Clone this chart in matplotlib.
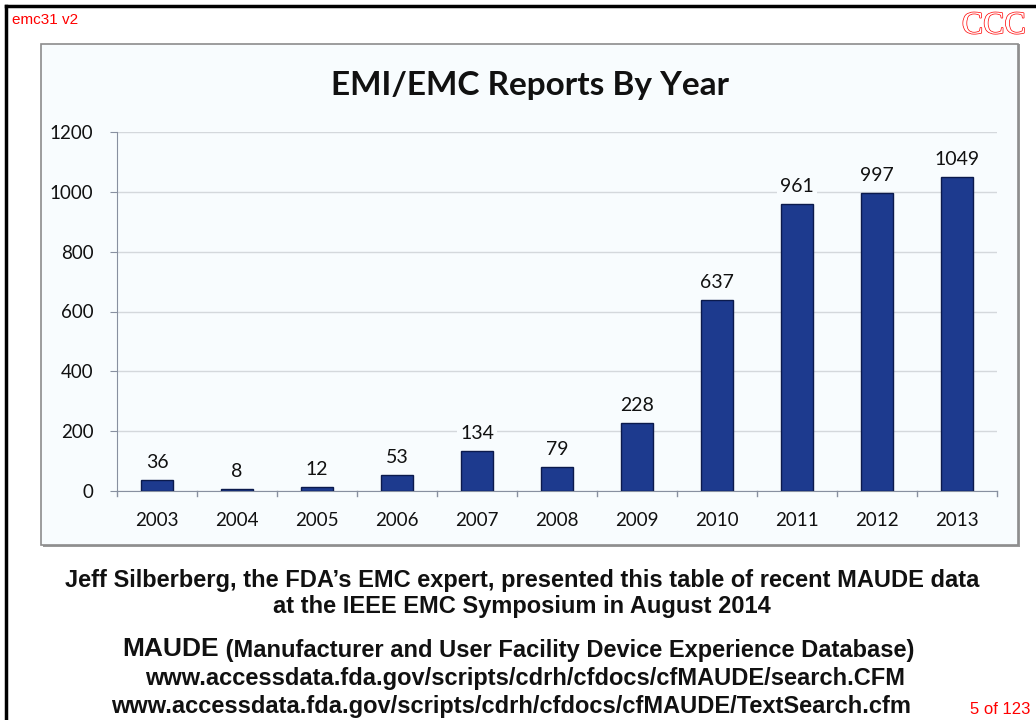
import matplotlib
matplotlib.use("Agg")
import matplotlib.pyplot as plt
from matplotlib.patches import Rectangle
from matplotlib.lines import Line2D
import matplotlib.patheffects as pe

years = ["2003", "2004", "2005", "2006", "2007", "2008", "2009", "2010", "2011", "2012", "2013"]
reports = [36, 8, 12, 53, 134, 79, 228, 637, 961, 997, 1049]
y_ticks = [0, 200, 400, 600, 800, 1000, 1200]

W, H = 1036, 720
fig = plt.figure(figsize=(W / 100, H / 100), dpi=100)
fig.patch.set_facecolor("white")
PANEL = "#f8fcfe"

def fx(px):
    return px / W

def fy(py):
    return 1 - py / H

# slide frame (black, top and left)
fig.add_artist(Line2D([fx(6), 1.0], [fy(6), fy(6)], color="black", lw=2.5, transform=fig.transFigure))
fig.add_artist(Line2D([fx(6), fx(6)], [fy(6), 0.0], color="black", lw=2.5, transform=fig.transFigure))

# chart panel
fig.add_artist(Rectangle((fx(43), fy(547)), fx(1020) - fx(43), fy(44) - fy(547),
                         transform=fig.transFigure, facecolor="#9a9a9a", edgecolor="none", zorder=-2))
fig.add_artist(Rectangle((fx(41), fy(545)), fx(1018) - fx(41), fy(44) - fy(545),
                         transform=fig.transFigure, facecolor=PANEL, edgecolor="#8c8c8c", lw=1.2, zorder=-1))

ax = fig.add_axes([fx(117), fy(491), fx(997) - fx(117), fy(132) - fy(491)])
ax.set_facecolor("none")
x = list(range(len(years)))
ax.bar(x, reports, width=0.4, color="#1d3a8e", edgecolor="#0b1a4c", linewidth=1.0, zorder=3)
for xi, v in zip(x, reports):
    ax.text(xi, v + 30, str(v), ha="center", va="bottom", fontsize=14, family="Lato", color="#111111",
            bbox=dict(facecolor=PANEL, edgecolor="none", pad=2), zorder=4)

ax.set_xlim(-0.5, len(years) - 0.5)
ax.set_ylim(0, 1200)
ax.set_yticks(y_ticks)
ax.set_yticklabels([str(t) for t in y_ticks], fontsize=13.5, family="Lato", color="#111111")
ax.set_xticks(x)
ax.set_xticklabels(years, fontsize=13.5, family="Lato", color="#111111")
ax.tick_params(axis="x", length=0, pad=15)
ax.tick_params(axis="y", length=5, color="#8890a0", pad=12)
for b in [i - 0.5 for i in range(len(years) + 1)]:
    ax.plot([b, b], [0, -18], color="#8890a0", lw=1.0, clip_on=False, zorder=4)
ax.grid(axis="y", color="#d4d8dc", lw=1.0, zorder=0)
for s in ["top", "right"]:
    ax.spines[s].set_visible(False)
ax.spines["left"].set_color("#8890a0")
ax.spines["bottom"].set_color("#8890a0")

fig.text(fx(530), fy(86), "EMI/EMC Reports By Year", ha="center", va="center",
         fontsize=24, fontweight="bold", family="Lato", color="#111111")

# slide labels
fig.text(fx(12), fy(20), "emc31 v2", ha="left", va="center", fontsize=11,
         family="Liberation Sans", color="red")
t = fig.text(fx(1026), fy(26), "CCC", ha="right", va="center", fontsize=23,
             family="Liberation Serif", color="white")
t.set_path_effects([pe.Stroke(linewidth=1.0, foreground="red"), pe.Normal()])
fig.text(fx(1030), fy(710), "5 of 123", ha="right", va="center", fontsize=12,
         family="Liberation Sans", color="red")

bt = dict(va="center", family="Liberation Sans", fontweight="bold", color="#111111")
fig.text(fx(522), fy(581), "Jeff Silberberg, the FDA\u2019s EMC expert, presented this table of recent MAUDE data",
         fontsize=17, ha="center", **bt)
fig.text(fx(522), fy(607), "at the IEEE EMC Symposium in August 2014", fontsize=17, ha="center", **bt)
t1 = fig.text(fx(122), fy(649), "MAUDE", fontsize=19, ha="left", **bt)
fig.canvas.draw()
ext = t1.get_window_extent(renderer=fig.canvas.get_renderer())
fig.text(ext.x1 / W, fy(650), " (Manufacturer and User Facility Device Experience Database)",
         fontsize=17, ha="left", **bt)
fig.text(fx(525), fy(679), "www.accessdata.fda.gov/scripts/cdrh/cfdocs/cfMAUDE/search.CFM",
         fontsize=17, ha="center", **bt)
fig.text(fx(511), fy(707), "www.accessdata.fda.gov/scripts/cdrh/cfdocs/cfMAUDE/TextSearch.cfm",
         fontsize=17, ha="center", **bt)

fig.savefig("out.png", dpi=100)
